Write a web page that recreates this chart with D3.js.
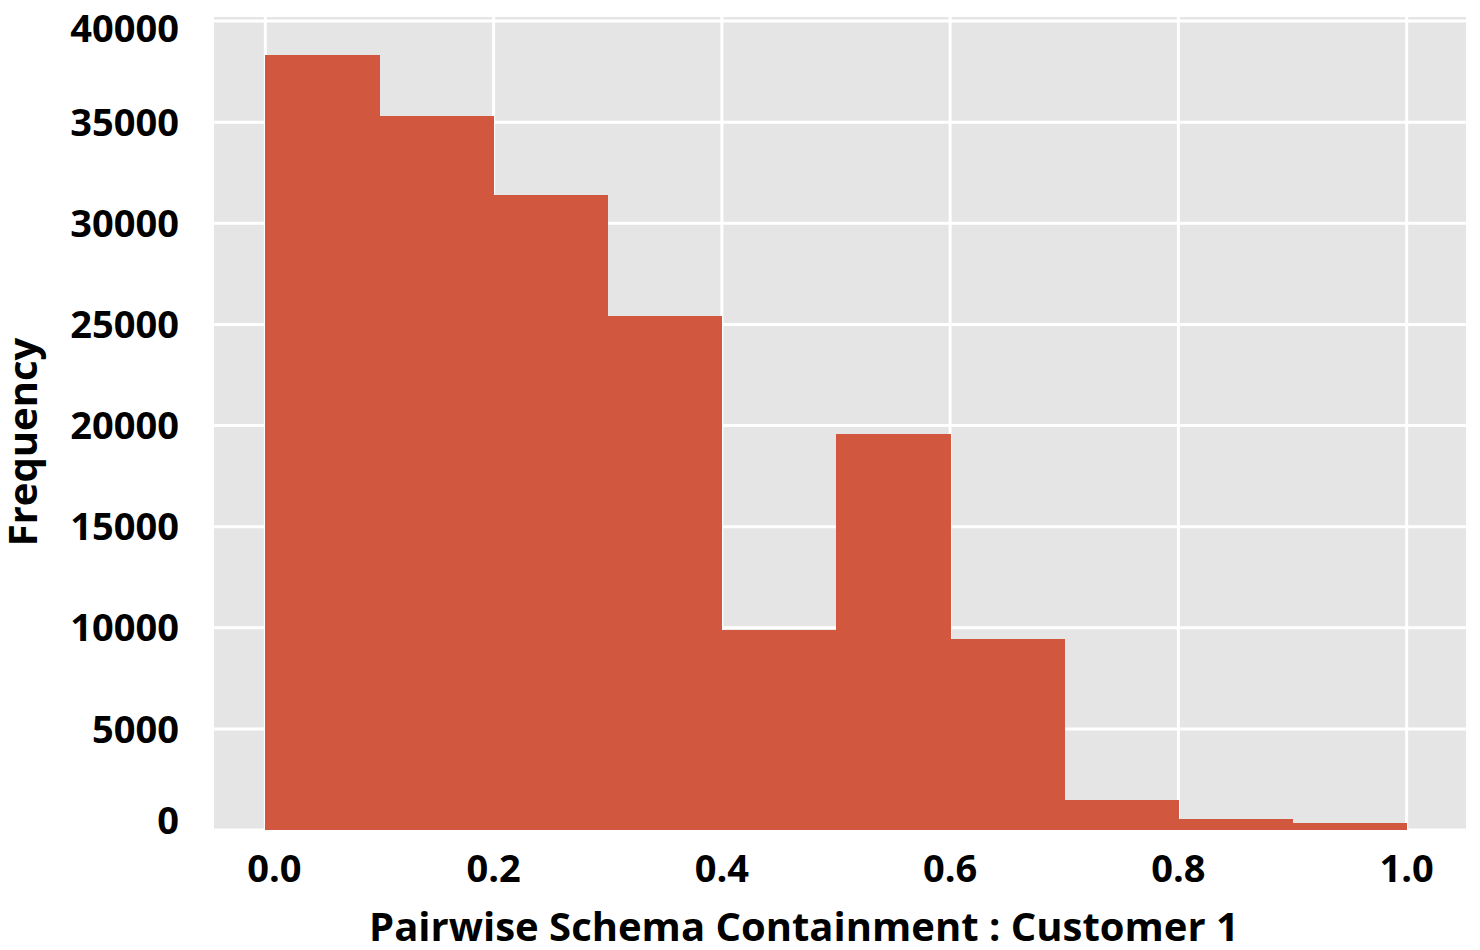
<!DOCTYPE html>
<html>
<head>
<meta charset="utf-8">
<script src="https://cdn.jsdelivr.net/npm/d3@7"></script>
<style>
  body { margin: 0; background: #FFFFFF; }
  text { font-family: "Open Sans", sans-serif; font-weight: bold; fill: #000000; }
</style>
</head>
<body>
<div class="chart"></div>
<script>
// Histogram data: bin edges and counts per bin
const binStarts = [0.0, 0.1, 0.2, 0.3, 0.4, 0.5, 0.6, 0.7, 0.8, 0.9];
const binWidth = 0.1;
const counts = [38300, 35300, 31400, 25400, 9900, 19600, 9450, 1500, 530, 360];

// Tick values
const xTicks = [0.0, 0.2, 0.4, 0.6, 0.8, 1.0];
const yTicks = [0, 5000, 10000, 15000, 20000, 25000, 30000, 35000, 40000];

const xLabel = "Pairwise Schema Containment : Customer 1";
const yLabel = "Frequency";

const width = 1480;
const height = 950;

const svg = d3.select(".chart")
    .append("svg")
        .attr("width", width)
        .attr("height", height);

// Scales
const xScale = d3.scaleLinear()
    .domain([-0.045, 1.052])
    .range([214, 1466]);

const yScale = d3.scaleLinear()
    .domain([0, 40000])
    .range([830, 21]);

const panelTop = 17;
const panelBottom = 831;

// Gray panel
svg
    .append("rect")
        .attr("x", xScale.range()[0])
        .attr("y", panelTop)
        .attr("width", xScale.range()[1] - xScale.range()[0])
        .attr("height", panelBottom - panelTop)
        .attr("fill", "#E5E5E5");

// Grid lines
svg.append("g")
    .selectAll("line")
    .data(yTicks)
    .join("line")
        .attr("x1", xScale.range()[0])
        .attr("x2", xScale.range()[1])
        .attr("y1", d => yScale(d))
        .attr("y2", d => yScale(d))
        .attr("stroke", "#FFFFFF")
        .attr("stroke-width", 3);

svg.append("g")
    .selectAll("line")
    .data(xTicks)
    .join("line")
        .attr("x1", d => xScale(d))
        .attr("x2", d => xScale(d))
        .attr("y1", panelTop)
        .attr("y2", panelBottom)
        .attr("stroke", "#FFFFFF")
        .attr("stroke-width", 3);

// Bars
svg.append("g")
    .attr("shape-rendering", "crispEdges")
    .selectAll("rect")
    .data(binStarts)
    .join("rect")
        .attr("x", d => xScale(d))
        .attr("y", (d, i) => yScale(counts[i]))
        .attr("width", d => xScale(d + binWidth) - xScale(d) + 0.5)
        .attr("height", (d, i) => yScale(0) - yScale(counts[i]))
        .attr("fill", "#D2573F");

// Y tick labels (the outer two sit slightly inside, as in the original)
svg.append("g")
    .selectAll("text")
    .data(yTicks)
    .join("text")
        .text(d => d)
        .attr("x", 179)
        .attr("y", d => yScale(d) + (d === 40000 ? 7 : d === 0 ? -10 : 0))
        .attr("dy", "0.36em")
        .attr("text-anchor", "end")
        .style("font-size", "38px");

// X tick labels
svg.append("g")
    .selectAll("text")
    .data(xTicks)
    .join("text")
        .text(d => d.toFixed(1))
        .attr("x", d => xScale(d) + (d === 0 ? 9 : 0))
        .attr("y", 882)
        .attr("text-anchor", "middle")
        .style("font-size", "38px");

// Axis titles
svg
    .append("text")
        .text(xLabel)
        .attr("x", 804)
        .attr("y", 941)
        .attr("text-anchor", "middle")
        .style("font-size", "40px");

svg
    .append("text")
        .text(yLabel)
        .attr("transform", "translate(37, 442) rotate(-90)")
        .attr("text-anchor", "middle")
        .style("font-size", "40px");
</script>
</body>
</html>
